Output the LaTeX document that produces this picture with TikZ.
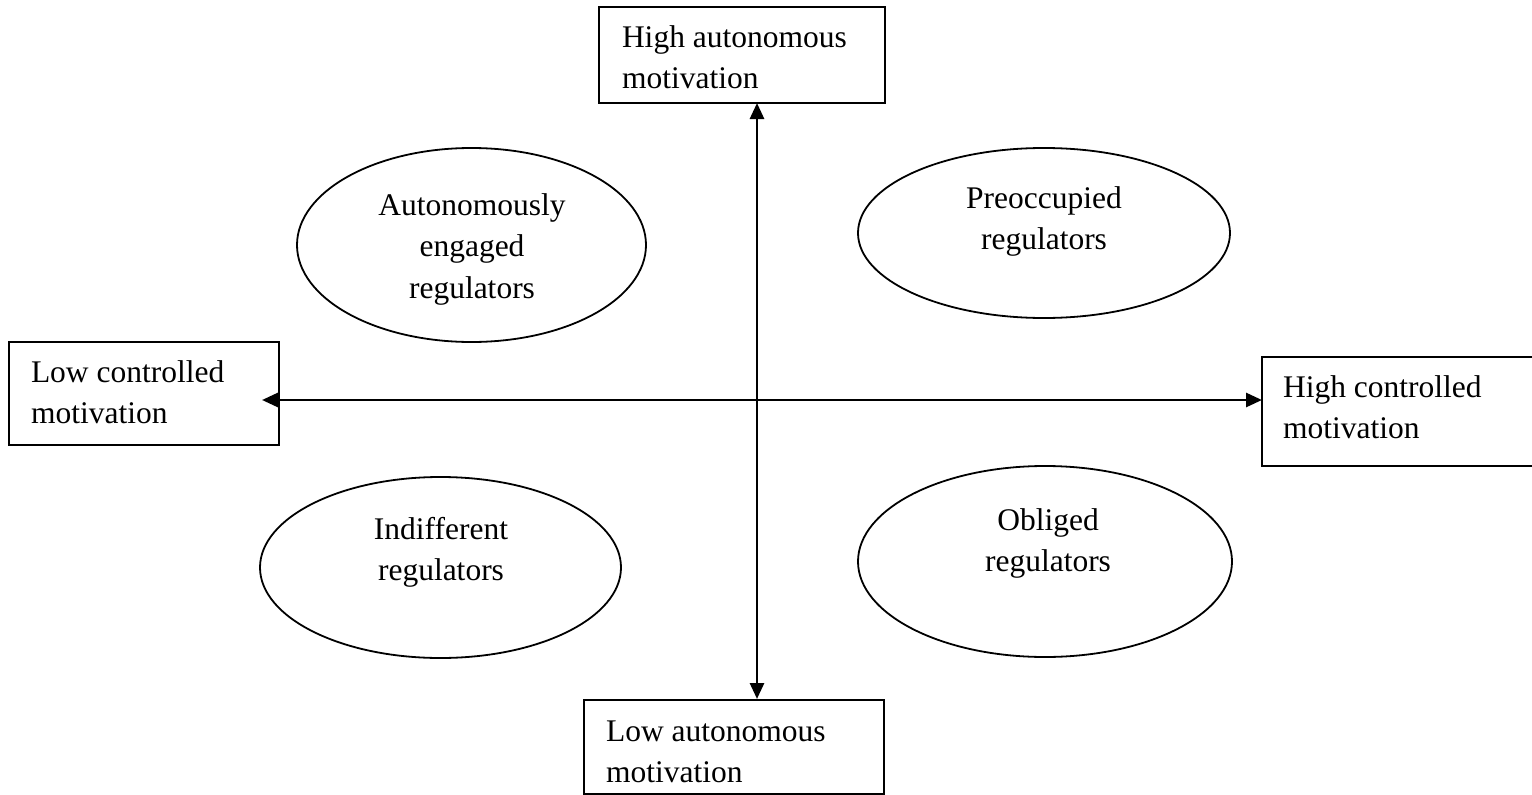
\documentclass[tikz,border=0pt]{standalone}
\usepackage{fontspec}
\setmainfont{Liberation Serif}
\usetikzlibrary{arrows.meta,shapes.geometric}
\newcommand{\mylines}[2][c]{\begin{tabular}[t]{@{}#1@{}}#2\end{tabular}}
\tikzset{
  box/.style={draw, line width=2pt, anchor=north west, inner sep=0pt, outer sep=0pt},
  oval/.style={draw, ellipse, line width=1.8pt, inner sep=0pt, outer sep=0pt},
  txt/.style={inner sep=0pt, outer sep=0pt, font=\fontsize{31.5}{41.5}\selectfont},
  axis/.style={line width=2.8pt, {Triangle[length=16pt,width=14pt]}-{Triangle[length=16pt,width=14pt]}},
}
\begin{document}
\begin{tikzpicture}[x=1pt,y=-1pt]
\useasboundingbox (0,0) rectangle (1532,795);
% boxes
\node[box, minimum width=286pt, minimum height=96pt] (top) at (599,7) {};
\node[box, minimum width=270pt, minimum height=103pt] (left) at (9,342) {};
\node[box, minimum width=275pt, minimum height=109pt] (right) at (1262,357) {};
\node[box, minimum width=300pt, minimum height=94pt] (bot) at (584,700) {};
\node[txt, anchor=base west] (toptxt) at (622,47) {\mylines[l]{High autonomous\\motivation}};
\node[txt, anchor=base west] (lefttxt) at (31,382) {\mylines[l]{Low controlled\\motivation}};
\node[txt, anchor=base west] (righttxt) at (1283,397) {\mylines[l]{High controlled\\motivation}};
\node[txt, anchor=base west] (bottxt) at (606,741) {\mylines[l]{Low autonomous\\motivation}};
% ellipses
\node[oval, minimum width=349pt, minimum height=194pt] (e1) at (471.5,245) {};
\node[oval, minimum width=372pt, minimum height=170pt] (e2) at (1044,233) {};
\node[oval, minimum width=361pt, minimum height=181pt] (e3) at (440.5,567.5) {};
\node[oval, minimum width=374pt, minimum height=191pt] (e4) at (1045,561.5) {};
\node[txt, anchor=base] (e1t) at (472,215) {\mylines{Autonomously\\engaged\\regulators}};
\node[txt, anchor=base] (e2t) at (1044,208) {\mylines{Preoccupied\\regulators}};
\node[txt, anchor=base] (e3t) at (441,539) {\mylines{Indifferent\\regulators}};
\node[txt, anchor=base] (e4t) at (1048,530) {\mylines{Obliged\\regulators}};
% axes
\coordinate (vtop) at (757,103);
\coordinate (vbot) at (757,699);
\coordinate (hleft) at (262,400);
\coordinate (hright) at (1262,400);
\draw[axis] (vtop) -- (vbot);
\draw[axis] (hleft) -- (hright);
\end{tikzpicture}
\end{document}
